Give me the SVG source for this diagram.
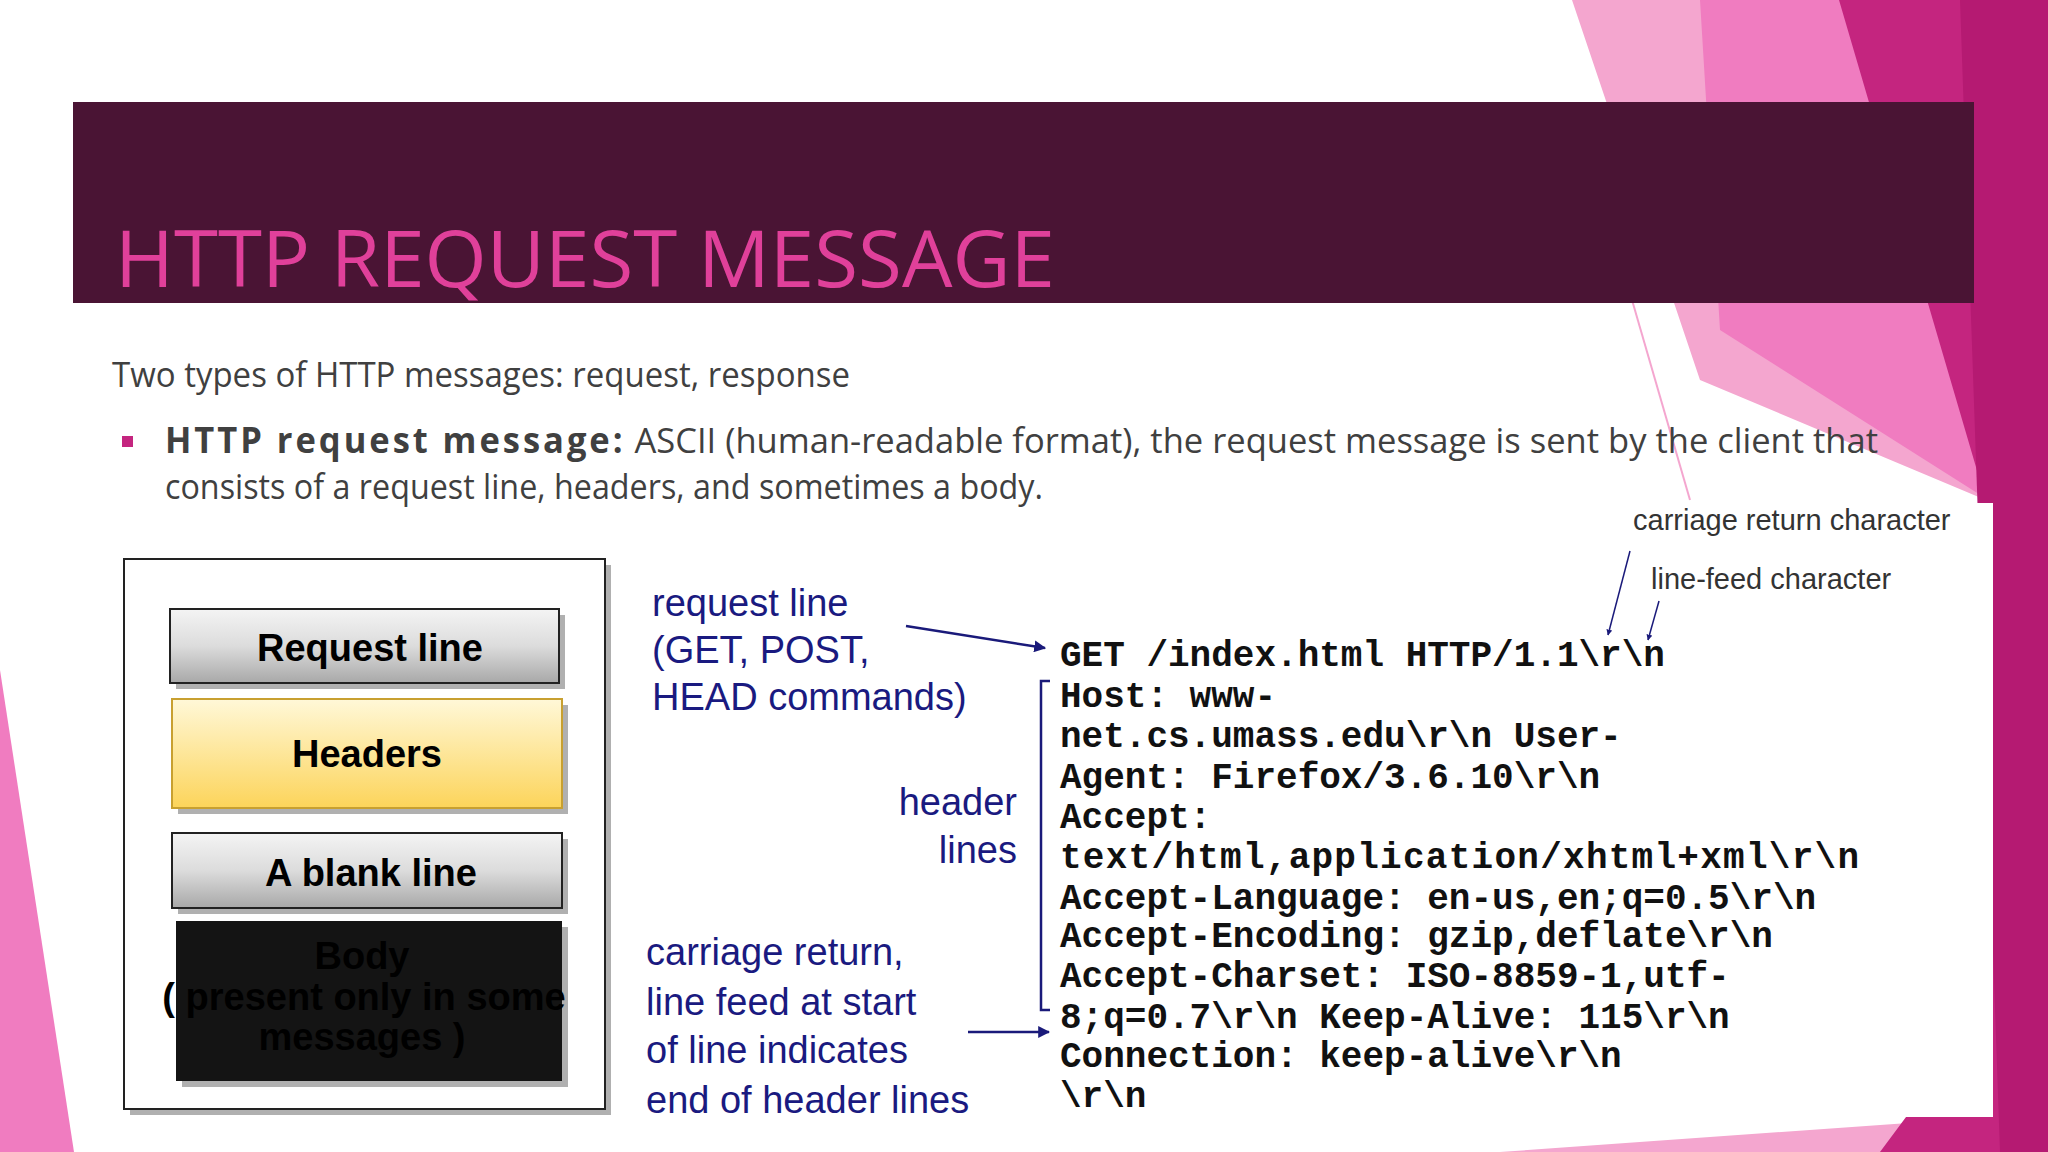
<svg xmlns="http://www.w3.org/2000/svg" width="2048" height="1152" viewBox="0 0 2048 1152">
<defs>
<linearGradient id="gray" x1="0" y1="0" x2="0" y2="1"><stop offset="0" stop-color="#f4f4f4"/><stop offset="0.5" stop-color="#dcdcdc"/><stop offset="1" stop-color="#a8a8a8"/></linearGradient>
<linearGradient id="yellow" x1="0" y1="0" x2="0" y2="1"><stop offset="0" stop-color="#fff8d8"/><stop offset="1" stop-color="#fcd45a"/></linearGradient>
<marker id="ah" viewBox="0 0 10 10" refX="9" refY="5" markerWidth="6" markerHeight="6" orient="auto" markerUnits="userSpaceOnUse"><path d="M0,0 L10,5 L0,10 z" fill="#1a1a7a"/></marker>
<marker id="ah2" viewBox="0 0 10 10" refX="9" refY="5" markerWidth="12" markerHeight="12" orient="auto" markerUnits="userSpaceOnUse"><path d="M0,0 L10,5 L0,10 z" fill="#1a1a7a"/></marker>
</defs>
<style>
.box{stroke:#222;stroke-width:2}
.shadow{fill:#b0b0b0}
.lbl{font-family:"Liberation Sans Narrow","Liberation Sans",Arial,sans-serif;font-weight:bold;font-size:38px;fill:#000;text-anchor:middle}
.blue{font-family:"Liberation Sans",Arial,sans-serif;font-size:38px;fill:#1a1a80}
.code{font-family:"Liberation Mono","Courier New",monospace;font-weight:bold;font-size:36px;fill:#111}
.note{font-family:"Liberation Sans",Arial,sans-serif;font-size:29px;fill:#333}
.body{font-family:"Open Sans","Liberation Sans",sans-serif;font-size:35px;fill:#404040}
.conn{stroke:#1a1a7a;stroke-width:2.5;fill:none}
</style>
<rect width="2048" height="1152" fill="#fff"/>
<g id="background">
<polygon points="1572,0 1850,0 1990,525 1990,1152 1500,1152 1993,1117 1993,503 1700,380" fill="#f4a6cf"/>
<polygon points="1700,0 2048,0 2048,1152 1940,1152 1993,503 1720,330" fill="#f07cc0"/>
<polygon points="1839,0 2048,0 2048,1152 1880,1152 1993,1000 1993,525" fill="#c4257f"/>
<polygon points="1960,0 2048,0 2048,1152 2000,1152" fill="#b51a72"/>
<polygon points="0,670 74,1152 0,1152" fill="#f07cc0"/>
<line x1="1632" y1="300" x2="1690" y2="500" stroke="#f4a6cf" stroke-width="2"/>
<rect x="1620" y="503" width="373" height="614" fill="#fff"/>
<rect x="620" y="503" width="1000" height="614" fill="#fff"/>
</g>
<g id="title">
<rect x="73" y="102" width="1901" height="201" fill="#4a1434"/>
<text x="115" y="287" font-family="'Open Sans','Liberation Sans',sans-serif" font-size="78" fill="#e0409a" textLength="940" lengthAdjust="spacingAndGlyphs">HTTP REQUEST MESSAGE</text>
</g>
<g id="intro">
<text class="body" x="112" y="387" textLength="738" lengthAdjust="spacingAndGlyphs">Two types of HTTP messages: request, response</text>
<rect x="122" y="436" width="11" height="11" fill="#c4257f"/>
<text class="body" x="165" y="453" textLength="1713" lengthAdjust="spacingAndGlyphs"><tspan font-weight="bold" letter-spacing="3">HTTP request message:</tspan> ASCII (human-readable format), the request message is sent by the client that</text>
<text class="body" x="165" y="499" textLength="878" lengthAdjust="spacingAndGlyphs">consists of a request line, headers, and sometimes a body.</text>
</g>
<g id="structure">
<rect x="130" y="565" width="481" height="550" class="shadow"/>
<rect x="124" y="559" width="481" height="550" fill="#fff" class="box"/>
</g>
<g id="node-request-line">
<rect x="176" y="615" width="389" height="74" class="shadow"/>
<rect x="170" y="609" width="389" height="74" fill="url(#gray)" class="box"/>
<text class="lbl" x="370" y="661">Request line</text>
</g>
<g id="node-headers">
<rect x="178" y="705" width="390" height="109" class="shadow"/>
<rect x="172" y="699" width="390" height="109" fill="url(#yellow)" stroke="#c8a030" stroke-width="2"/>
<text class="lbl" x="367" y="767">Headers</text>
</g>
<g id="node-blank-line">
<rect x="178" y="839" width="390" height="75" class="shadow"/>
<rect x="172" y="833" width="390" height="75" fill="url(#gray)" class="box"/>
<text class="lbl" x="371" y="886">A blank line</text>
</g>
<g id="node-body">
<rect x="182" y="927" width="386" height="160" class="shadow"/>
<rect x="176" y="921" width="386" height="160" fill="#141414"/>
<text class="lbl" x="362" y="969" font-weight="normal" font-size="35" fill="#fff">Body</text>
<text class="lbl" x="364" y="1010" font-weight="normal" font-size="35" fill="#fff">( present only in some</text>
<text class="lbl" x="362" y="1050" font-weight="normal" font-size="35" fill="#fff">messages )</text>
</g>
<g id="labels">
<text class="blue" x="652" y="616">request line</text>
<text class="blue" x="652" y="663">(GET, POST,</text>
<text class="blue" x="652" y="710">HEAD commands)</text>
<text class="blue" x="1017" y="815" text-anchor="end">header</text>
<text class="blue" x="1017" y="863" text-anchor="end">lines</text>
<text class="blue" x="646" y="965">carriage return,</text>
<text class="blue" x="646" y="1015">line feed at start</text>
<text class="blue" x="646" y="1063">of line indicates</text>
<text class="blue" x="646" y="1113">end of header lines</text>
<text class="note" x="1633" y="530">carriage return character</text>
<text class="note" x="1651" y="589">line-feed character</text>
</g>
<g id="code">
<text class="code" x="1060" y="666">GET /index.html HTTP/1.1\r\n</text>
<text class="code" x="1060" y="707">Host: www-</text>
<text class="code" x="1060" y="747">net.cs.umass.edu\r\n  User-</text>
<text class="code" x="1060" y="788">Agent: Firefox/3.6.10\r\n</text>
<text class="code" x="1060" y="828">Accept:</text>
<text class="code" x="1060" y="868" textLength="799" lengthAdjust="spacing">text/html,application/xhtml+xml\r\n</text>
<text class="code" x="1060" y="909">Accept-Language: en-us,en;q=0.5\r\n</text>
<text class="code" x="1060" y="947">Accept-Encoding: gzip,deflate\r\n</text>
<text class="code" x="1060" y="987">Accept-Charset: ISO-8859-1,utf-</text>
<text class="code" x="1060" y="1028">8;q=0.7\r\n  Keep-Alive: 115\r\n</text>
<text class="code" x="1060" y="1067">Connection: keep-alive\r\n</text>
<text class="code" x="1060" y="1107">\r\n</text>
</g>
<g id="connectors">
<line x1="906" y1="626" x2="1045" y2="648" class="conn" marker-end="url(#ah2)"/>
<line x1="968" y1="1032" x2="1049" y2="1032" class="conn" marker-end="url(#ah2)"/>
<polyline points="1050,681 1041,681 1041,1010 1050,1010" class="conn"/>
<line x1="1630" y1="551" x2="1608" y2="635" stroke="#1a1a7a" stroke-width="1.5" marker-end="url(#ah)"/>
<line x1="1659" y1="601" x2="1648" y2="640" stroke="#1a1a7a" stroke-width="1.5" marker-end="url(#ah)"/>
</g>
</svg>
